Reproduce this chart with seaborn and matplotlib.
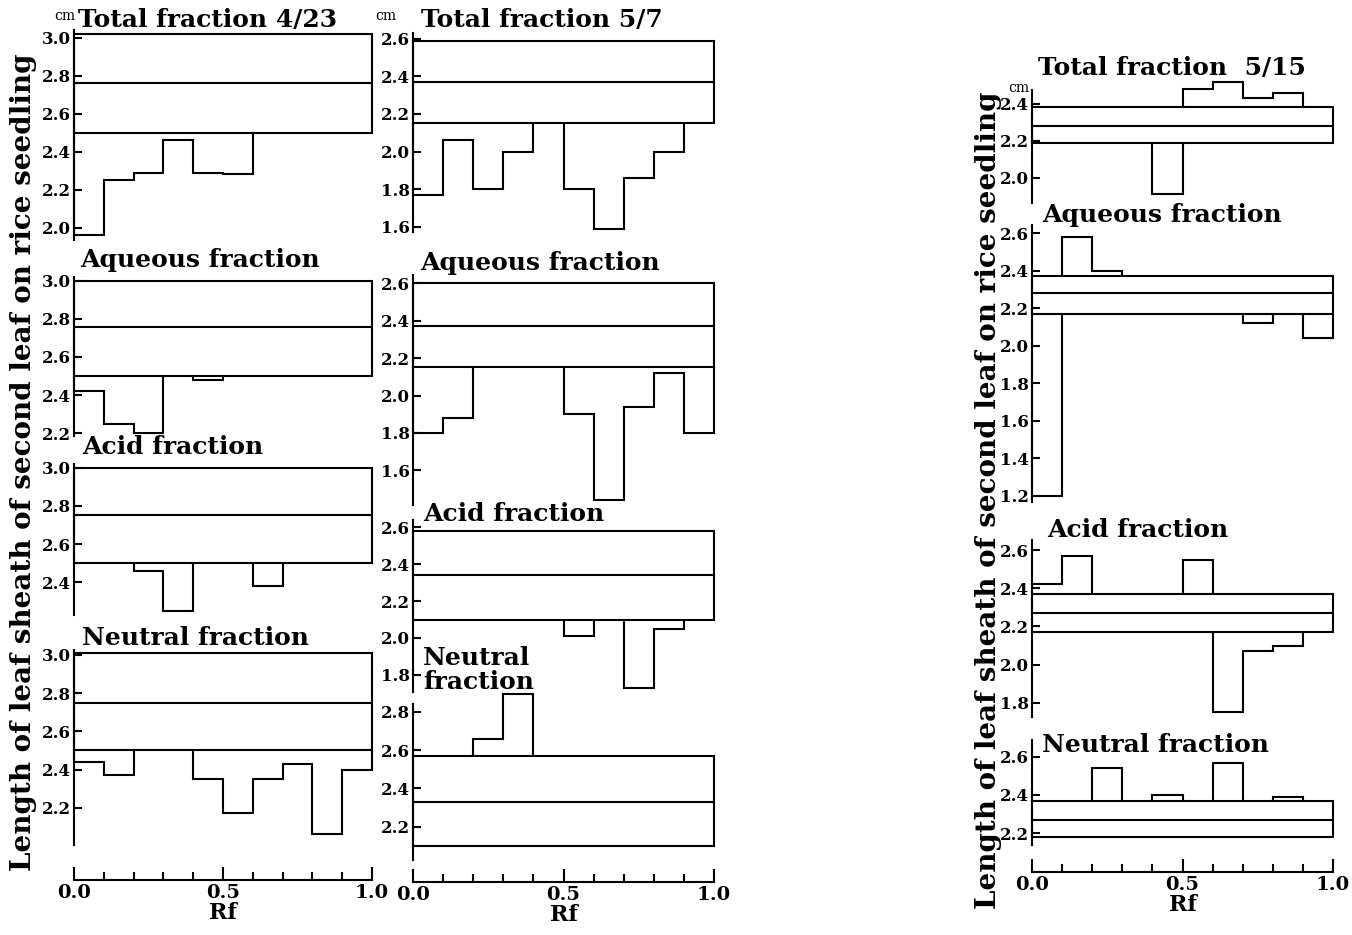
import numpy as np
import matplotlib
matplotlib.use("Agg")
import matplotlib.pyplot as plt
import seaborn as sns

# Rf bins (left edges, width 0.1)
rf_bins = [0.0, 0.1, 0.2, 0.3, 0.4, 0.5, 0.6, 0.7, 0.8, 0.9]
nan = np.nan

# control band per panel: (lower, mean, upper)  -- cm
band_total_0423 = (2.50, 2.76, 3.02)
band_aqueous_0423 = (2.50, 2.76, 3.00)
band_acid_0423 = (2.50, 2.75, 3.00)
band_neutral_0423 = (2.50, 2.75, 3.01)

band_total_0507 = (2.15, 2.37, 2.59)
band_aqueous_0507 = (2.15, 2.37, 2.60)
band_acid_0507 = (2.10, 2.34, 2.58)
band_neutral_0507 = (2.10, 2.33, 2.57)

band_total_0515 = (2.19, 2.28, 2.38)
band_aqueous_0515 = (2.17, 2.28, 2.37)
band_acid_0515 = (2.17, 2.27, 2.37)
band_neutral_0515 = (2.18, 2.27, 2.37)

# fraction values per Rf bin (nan = inside control band, not drawn)
total_0423 = [1.96, 2.25, 2.29, 2.46, 2.29, 2.28, nan, nan, nan, nan]
aqueous_0423 = [2.42, 2.25, 2.20, nan, 2.48, nan, nan, nan, nan, nan]
acid_0423 = [nan, nan, 2.46, 2.25, nan, nan, 2.38, nan, nan, nan]
neutral_0423 = [2.44, 2.37, nan, nan, 2.35, 2.17, 2.35, 2.43, 2.06, 2.40]

total_0507 = [1.77, 2.06, 1.80, 2.00, nan, 1.80, 1.59, 1.86, 2.00, nan]
aqueous_0507 = [1.80, 1.88, nan, nan, nan, 1.90, 1.44, 1.94, 2.12, 1.80]
acid_0507 = [nan, nan, nan, nan, nan, 2.01, nan, 1.73, 2.05, nan]
neutral_0507 = [nan, nan, 2.66, 2.89, nan, nan, nan, nan, nan, nan]

total_0515 = [nan, nan, nan, nan, 1.91, 2.48, 2.52, 2.43, 2.46, nan]
aqueous_0515 = [1.20, 2.58, 2.40, nan, nan, nan, nan, 2.12, nan, 2.04]
acid_0515 = [2.42, 2.57, nan, nan, nan, 2.55, 1.75, 2.07, 2.10, nan]
neutral_0515 = [nan, nan, 2.54, nan, 2.40, nan, 2.57, nan, 2.39, nan]

ylabel = "Length of leaf sheath of second leaf on rice seedling"

W, H = 1352, 935
LW = 1.5
BIN = 0.1

sns.set_theme(style="ticks")
plt.rcParams['font.family'] = ['DejaVu Serif']
plt.rcParams['font.weight'] = 'bold'
plt.rcParams['axes.linewidth'] = LW
for key in ['text.color', 'axes.labelcolor', 'xtick.color', 'ytick.color', 'axes.edgecolor']:
    plt.rcParams[key] = 'black'

fig = plt.figure(figsize=(W / 100, H / 100), dpi=100)


def px_axes(x0, x1, top, bottom):
    return fig.add_axes([x0 / W, 1 - bottom / H, (x1 - x0) / W, (bottom - top) / H])


def px_text(x, y, s, **kw):
    fig.text(x / W, 1 - y / H, s, **kw)


def step_runs(values, low, high):
    """group consecutive bins lying on the same side of the control band"""
    runs, cur, side = [], [], None
    for x, v in zip(rf_bins, values):
        s = None if np.isnan(v) else ('below' if v < low else 'above')
        if s != side and cur:
            runs.append((side, cur))
            cur = []
        side = s
        if s is not None:
            cur.append((x, v))
    if cur:
        runs.append((side, cur))
    return runs


def draw_panel(ax, band, values, ylim, yticks, spine=None):
    low, mid, high = band
    ax.bar(0, high - low, width=1.0, bottom=low, align='edge', fill=False,
           edgecolor='black', linewidth=LW, clip_on=False)
    ax.hlines(mid, 0, 1, color='black', linewidth=LW, clip_on=False)
    for side, run in step_runs(values, low, high):
        base = low if side == 'below' else high
        xs, ys = [run[0][0]], [base]
        for x, v in run:
            xs += [x, x + BIN]
            ys += [v, v]
        xs.append(run[-1][0] + BIN)
        ys.append(base)
        ax.plot(xs, ys, color='black', linewidth=LW, clip_on=False,
                solid_joinstyle='miter')
    ax.set_xlim(0, 1)
    ax.set_ylim(*ylim)
    ax.set_xticks([])
    ax.set_yticks(yticks)
    ax.set_yticklabels([f"{t:.1f}" for t in yticks], fontsize=12, fontweight='bold')
    ax.tick_params(axis='y', direction='in', length=6, width=LW, pad=2, colors='black')
    ax.patch.set_alpha(0)
    sns.despine(ax=ax, bottom=True)
    if spine is not None:
        ax.spines['left'].set_bounds(*spine)


def draw_rf_axis(x0, x1, y):
    ax = px_axes(x0, x1, y - 20, y)
    ax.set_xlim(0, 1)
    ax.set_yticks([])
    ax.set_xticks([0.0, 0.5, 1.0])
    ax.set_xticklabels(["0.0", "0.5", "1.0"], fontsize=14, fontweight='bold')
    ax.set_xticks(rf_bins[1:], minor=True)
    ax.tick_params(axis='x', which='major', direction='in', length=9.5, width=LW, pad=3, colors='black')
    ax.tick_params(axis='x', which='minor', direction='in', length=6, width=LW, colors='black')
    ax.set_xlabel("Rf", fontsize=16, fontweight='bold', labelpad=0)
    ax.patch.set_alpha(0)
    sns.despine(ax=ax, left=True)


TS = 18  # panel title size
YS = 20  # y label size

# ---- left column: 4/23 ----
L = (74, 372)
ax = px_axes(L[0], L[1], 30, 240)
draw_panel(ax, band_total_0423, total_0423, (1.935, 3.04), [2.0, 2.2, 2.4, 2.6, 2.8, 3.0])
ax = px_axes(L[0], L[1], 277, 436)
draw_panel(ax, band_aqueous_0423, aqueous_0423, (2.185, 3.02), [2.2, 2.4, 2.6, 2.8, 3.0])
ax = px_axes(L[0], L[1], 464, 615)
draw_panel(ax, band_acid_0423, acid_0423, (2.229, 3.019), [2.4, 2.6, 2.8, 3.0])
ax = px_axes(L[0], L[1], 650, 845)
draw_panel(ax, band_neutral_0423, neutral_0423, (2.005, 3.026), [2.2, 2.4, 2.6, 2.8, 3.0])
draw_rf_axis(L[0], L[1], 880)

px_text(78, 20, "Total fraction 4/23", fontsize=TS, ha='left', va='center')
px_text(80, 260, "Aqueous fraction", fontsize=TS, ha='left', va='center')
px_text(82, 447, "Acid fraction", fontsize=TS, ha='left', va='center')
px_text(82, 638, "Neutral fraction", fontsize=TS, ha='left', va='center')
px_text(65, 16, "cm", fontsize=10, ha='center', va='center', fontweight='normal')
px_text(24, 462, ylabel, fontsize=YS, rotation=90, ha='center', va='center')

# ---- middle column: 5/7 ----
M = (413, 714)
ax = px_axes(M[0], M[1], 33, 232)
draw_panel(ax, band_total_0507, total_0507, (1.572, 2.631), [1.6, 1.8, 2.0, 2.2, 2.4, 2.6])
ax = px_axes(M[0], M[1], 275, 505)
draw_panel(ax, band_aqueous_0507, aqueous_0507, (1.415, 2.644), [1.6, 1.8, 2.0, 2.2, 2.4, 2.6])
ax = px_axes(M[0], M[1], 520, 692)
draw_panel(ax, band_acid_0507, acid_0507, (1.708, 2.638), [1.8, 2.0, 2.2, 2.4, 2.6])
ax = px_axes(M[0], M[1], 692, 860)
draw_panel(ax, band_neutral_0507, neutral_0507, (2.027, 2.903), [2.2, 2.4, 2.6, 2.8], spine=(2.027, 2.84))
draw_rf_axis(M[0], M[1], 882)

px_text(421, 20, "Total fraction 5/7", fontsize=TS, ha='left', va='center')
px_text(420, 263, "Aqueous fraction", fontsize=TS, ha='left', va='center')
px_text(423, 514, "Acid fraction", fontsize=TS, ha='left', va='center')
px_text(423, 670, "Neutral\nfraction", fontsize=TS, ha='left', va='center', linespacing=0.95)
px_text(386, 16, "cm", fontsize=10, ha='center', va='center', fontweight='normal')

# ---- right column: 5/15 ----
R = (1032, 1333)
ax = px_axes(R[0], R[1], 78, 203)
draw_panel(ax, band_total_0515, total_0515, (1.863, 2.539), [2.0, 2.2, 2.4], spine=(1.863, 2.475))
ax = px_axes(R[0], R[1], 225, 502)
draw_panel(ax, band_aqueous_0515, aqueous_0515, (1.168, 2.643),
           [1.2, 1.4, 1.6, 1.8, 2.0, 2.2, 2.4, 2.6])
ax = px_axes(R[0], R[1], 540, 717)
draw_panel(ax, band_acid_0515, acid_0515, (1.726, 2.653), [1.8, 2.0, 2.2, 2.4, 2.6])
ax = px_axes(R[0], R[1], 740, 845)
draw_panel(ax, band_neutral_0515, neutral_0515, (2.137, 2.689), [2.2, 2.4, 2.6])
draw_rf_axis(R[0], R[1], 872)

px_text(1038, 68, "Total fraction  5/15", fontsize=TS, ha='left', va='center')
px_text(1042, 215, "Aqueous fraction", fontsize=TS, ha='left', va='center')
px_text(1047, 530, "Acid fraction", fontsize=TS, ha='left', va='center')
px_text(1042, 745, "Neutral fraction", fontsize=TS, ha='left', va='center')
px_text(1019, 88, "cm", fontsize=10, ha='center', va='center', fontweight='normal')
px_text(989, 500, ylabel, fontsize=YS, rotation=90, ha='center', va='center')

fig.savefig("out.png", dpi=100, facecolor='white')
